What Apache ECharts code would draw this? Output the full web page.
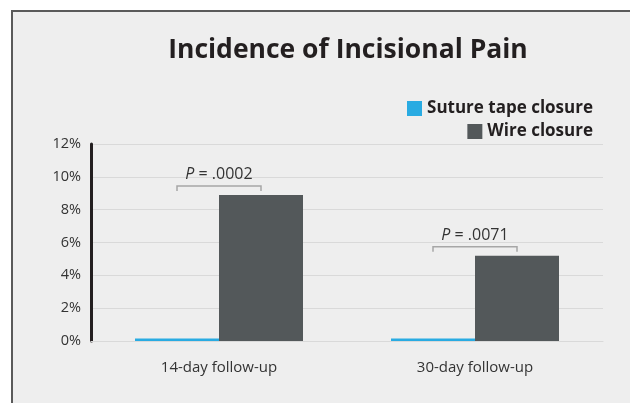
<!DOCTYPE html>
<html><head><meta charset="utf-8">
<script src="https://cdn.jsdelivr.net/npm/echarts@6/dist/echarts.min.js"></script>
<style>html,body{margin:0;padding:0;background:#fff}#c{width:630px;height:403px}</style>
</head><body><div id="c"></div>
<script>
const categories = ['14-day follow-up', '30-day follow-up'];
const sutureTape = [0.15, 0.15];
const wire = [8.9, 5.2];
const pValues = ['.0002', '.0071'];
const yTicks = [0, 2, 4, 6, 8, 10, 12];

const chart = echarts.init(document.getElementById('c'), null, {renderer: 'canvas'});
const BAR_W = 84;
const FONT = '"Open Sans", sans-serif';
chart.setOption({
  animation: false,
  backgroundColor: '#ffffff',
  graphic: [{
    type: 'rect', left: 11, top: 10, z: -10, silent: true,
    shape: {width: 700, height: 500},
    style: {fill: '#eeeeee', stroke: '#5a5a5a', lineWidth: 2}
  }],
  title: {
    text: 'Incidence of Incisional Pain',
    left: 343, top: 32, textAlign: 'center',
    textStyle: {fontFamily: FONT, fontWeight: 'bold', fontSize: 26.5, color: '#231f20'}
  },
  legend: [{
    data: ['Suture tape closure'], right: 32, top: 95, itemWidth: 15, itemHeight: 15, itemGap: 8,
    icon: 'rect', textStyle: {fontFamily: FONT, fontWeight: 'bold', fontSize: 17, color: '#231f20'}
  }, {
    data: ['Wire closure'], right: 32, top: 118, itemWidth: 15, itemHeight: 15, itemGap: 8,
    icon: 'rect', textStyle: {fontFamily: FONT, fontWeight: 'bold', fontSize: 17, color: '#231f20'}
  }],
  grid: {left: 91, right: 27, top: 144, bottom: 62},
  xAxis: {
    type: 'category', data: categories,
    axisLine: {show: true, lineStyle: {color: '#d9d9d9', width: 1}},
    axisTick: {show: false},
    axisLabel: {fontFamily: FONT, fontSize: 15, color: '#333', margin: 19}
  },
  yAxis: {
    type: 'value', min: 0, max: 12, interval: 2,
    axisLine: {show: true, lineStyle: {color: '#231f20', width: 3}},
    axisTick: {show: false},
    splitLine: {lineStyle: {color: '#d9d9d9', width: 1}},
    axisLabel: {fontFamily: FONT, fontSize: 14.5, color: '#333', margin: 10,
      formatter: v => yTicks.includes(v) ? v + '%' : ''}
  },
  series: [{
    name: 'Suture tape closure', type: 'bar', data: sutureTape,
    barWidth: BAR_W, barGap: '0%', itemStyle: {color: '#29abe2'}
  }, {
    name: 'Wire closure', type: 'bar', data: wire,
    barWidth: BAR_W, itemStyle: {color: '#53585a'}
  }, {
    type: 'custom', silent: true, z: 5,
    data: categories.map((c, i) => [i, Math.max(sutureTape[i], wire[i]), pValues[i]]),
    renderItem: function (params, api) {
      const p = api.coord([api.value(0), api.value(1)]);
      const x1 = p[0] - BAR_W / 2, x2 = p[0] + BAR_W / 2;
      const y = p[1] - 9;
      return {
        type: 'group', children: [{
          type: 'polyline',
          shape: {points: [[x1, y + 5], [x1, y], [x2, y], [x2, y + 5]]},
          style: {stroke: '#a6a6a6', lineWidth: 1.5, fill: null}
        }, {
          type: 'text',
          style: {
            x: p[0], y: y - 3, align: 'center', verticalAlign: 'bottom',
            text: '{i|P} = ' + pValues[params.dataIndex],
            rich: {i: {fontStyle: 'italic', fontFamily: FONT, fontSize: 16, fill: '#333'}},
            font: '16px ' + FONT, fill: '#333'
          }
        }]
      };
    }
  }]
});
</script></body></html>
